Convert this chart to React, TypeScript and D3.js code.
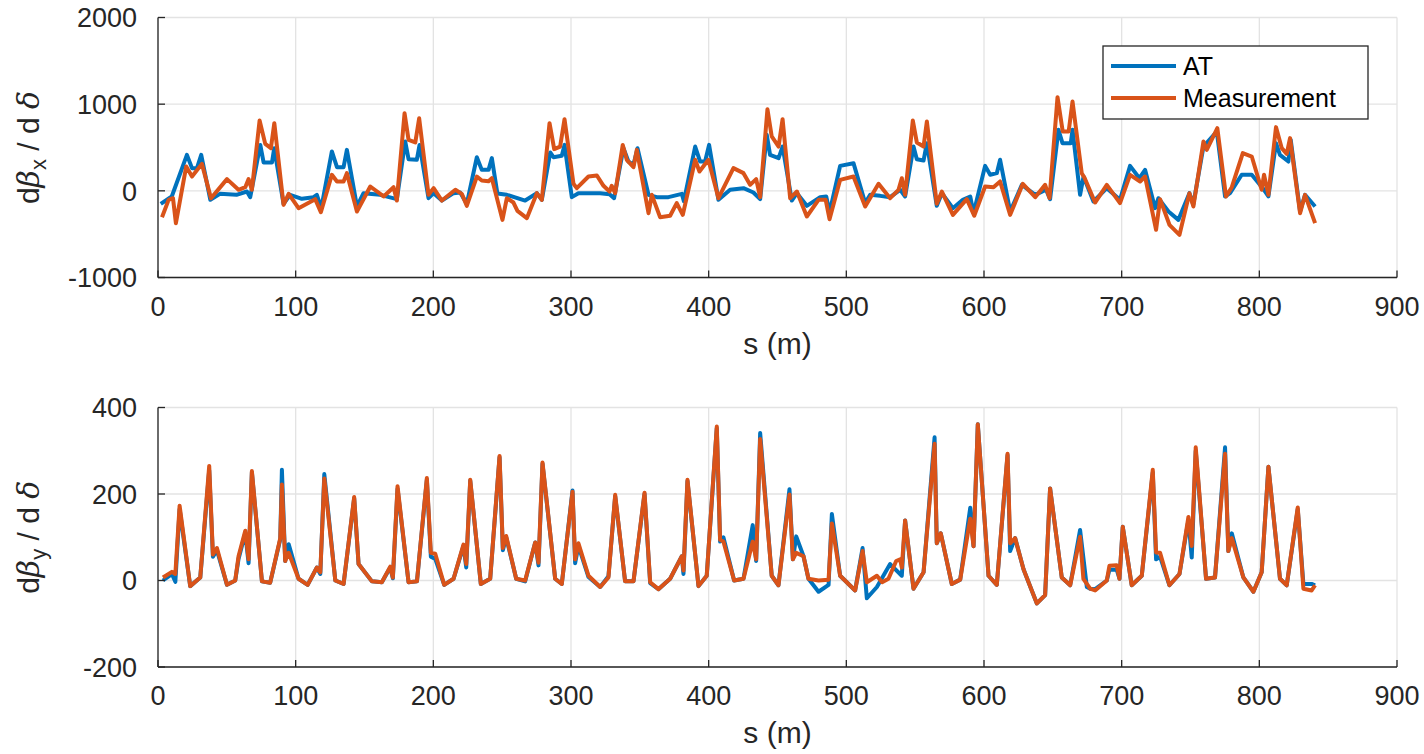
import * as d3 from 'd3'

// s (m), value pairs
const betaxAT: [number, number][] = [
  [2, -150], [10, -65], [21, 415], [24.7, 262], [28.3, 262], [31.4, 415], [38, -104], [45, -35], [57, -46], [64.6, -8],
  [67, -73], [74.3, 530], [76.7, 327], [82.8, 327], [84.4, 492], [91.2, -150], [96, -46], [104.5, -92], [113, -73], [115.4, -46],
  [118.6, -200], [126.3, 454], [130, 273], [134.8, 273], [137.2, 473], [144.5, -180], [149.3, -27], [161.4, -46], [173.5, -96], [179.6, 569],
  [182, 365], [188, 358], [190, 530], [196.5, -85], [200.2, -27], [206.2, -112], [214.7, -27], [219.5, -19], [224.3, -150], [231.6, 388],
  [235.2, 242], [240.1, 242], [242.5, 377], [246.5, -30], [253.4, -46], [266.7, -112], [275.2, -27], [278.8, -104], [284.9, 442], [287.3, 388],
  [293.3, 404], [295.3, 530], [300.6, -73], [305.4, -27], [321.2, -27], [328, -40], [331.3, -85], [338.1, 492], [341.7, 338], [345.4, 300],
  [348.3, 492], [356.3, -46], [362.3, -73], [370.8, -73], [380.5, -35], [382, -120], [390.2, 511], [393.8, 338], [397.4, 338], [400.3, 530],
  [407.1, -104], [415.6, 12], [425.3, 31], [432.5, -19], [437.4, -96], [442.2, 646], [444.6, 415], [450.8, 377], [453.7, 511], [460.4, -112],
  [464.1, -27], [471.3, -173], [481, -73], [485.4, -65], [487.8, -250], [495.5, 288], [505.2, 319], [513.7, -142], [517.3, -46], [524.6, -58],
  [531.8, -73], [539.1, 12], [542.7, -65], [548.8, 511], [551.2, 365], [556.1, 350], [558.5, 550], [565.7, -173], [569.4, -27], [577.4, -200],
  [584.6, -104], [590, -65], [592.4, -258], [600.8, 288], [604.5, 185], [609.3, 204], [611.7, 358], [619, -238], [627.5, 69], [637.2, -46],
  [645.1, 12], [648, -96], [654.1, 704], [657, 550], [663, 550], [664.3, 704], [669.8, -46], [672.3, 165], [679.5, -123], [689.2, 31],
  [698.8, -104], [706.1, 288], [712.9, 146], [717, 242], [724.3, -200], [726.7, -85], [734, -238], [741.2, -335], [749.2, -27], [752, -160],
  [759.4, 511], [769.1, 685], [775.1, -65], [778.7, -27], [787.2, 185], [794.5, 185], [802.5, 31], [806.6, -65], [812.1, 550], [815, 415],
  [821.1, 338], [822.8, 588], [829.6, -238], [833.2, -46], [840.5, -181],
]

const betaxMeas: [number, number][] = [
  [2.9, -304], [7.7, -104], [10.9, -85], [13, -373], [20.5, 281], [24.7, 165], [31.9, 311], [38.5, -85], [50.1, 135], [58.5, 12],
  [63.4, 42], [65.8, 135], [68.2, 12], [73.8, 811], [77.9, 542], [82, 492], [84.5, 781], [91.2, -162], [94.9, -35], [102.1, -200],
  [114.2, -96], [118.3, -246], [126.3, 185], [130, 108], [134.8, 108], [137.2, 204], [144.5, -238], [154.2, 50], [163.9, -65], [171.1, 42],
  [173.5, -112], [179.1, 896], [182, 588], [186.9, 558], [189.7, 838], [196.5, -46], [200.2, 31], [206.2, -112], [216, 12], [220.7, -35],
  [224.3, -173], [231.6, 165], [235.2, 119], [240.1, 110], [242.5, 146], [250.2, -335], [253.4, -85], [258.2, -135], [261.1, -231], [267.9, -315],
  [275.2, -27], [278.8, -104], [284.4, 781], [287.8, 481], [292.1, 511], [295.3, 827], [301.8, 81], [304.2, 31], [312.7, 165], [318.8, 177],
  [323.6, 58], [328, -8], [329.6, 58], [332.1, -27], [337.6, 530], [340.5, 358], [345.4, 273], [347.8, 473], [356.3, -258], [358.7, -46],
  [364.7, -304], [372, -288], [376.8, -142], [381.2, -277], [390.2, 358], [393.3, 223], [399.8, 358], [407.1, -85], [418, 262], [425.3, 204],
  [430.1, 69], [434.5, 135], [437.4, -73], [442.7, 942], [445.8, 627], [450.8, 511], [453.7, 827], [459.2, -85], [464.1, -8], [471.3, -296],
  [479.8, -104], [485, -104], [487.8, -327], [495.5, 127], [505.2, 165], [513.7, -181], [523.4, 81], [531.8, -85], [537.9, 12], [540.3, 146],
  [542.7, -46], [548.3, 811], [551.2, 558], [556.1, 511], [558.5, 800], [565.7, -150], [569.4, -8], [577.4, -277], [587.5, -96], [592.9, -288],
  [600.8, 50], [606.9, 42], [611.7, 108], [619, -277], [628.2, 81], [637.2, -73], [644.4, 69], [647.6, -85], [653.4, 1081], [657.2, 685],
  [661.5, 685], [664.3, 1031], [671, 204], [673, 150], [680.7, -135], [689.2, 69], [698.8, -142], [706.1, 185], [713.4, 108], [717, 165],
  [725, -450], [727.9, -96], [734.7, -392], [742, -508], [749.2, -27], [752.1, -181], [759.4, 569], [761.8, 473], [769.5, 723], [775.8, -65],
  [780, 42], [788, 435], [794.5, 396], [801.7, 12], [803.4, 185], [806.6, -46], [812.1, 735], [816.3, 492], [819.9, 427], [822.3, 608],
  [829.6, -258], [833.2, -46], [840.5, -373],
]

const betayAT: [number, number][] = [
  [3.6, 0], [10.1, 15], [12.6, -3], [15.7, 165], [23.4, -13], [30.7, 7], [37.2, 255], [39.9, 55], [42.8, 70], [50.1, -10],
  [56.1, 0], [58.5, 50], [63.4, 110], [65.8, 40], [68.2, 250], [75.5, -2], [81.5, -5], [88.8, 95], [90, 256], [92.4, 45],
  [94.9, 84], [102.1, 4], [108.7, -10], [115.4, 30], [117.9, 15], [120.8, 246], [128.8, 0], [134.8, -8], [142.5, 190], [145.7, 38],
  [155.4, -2], [162.6, -4], [168.7, 30], [170.6, 5], [174, 212], [182, -4], [188.1, -2], [195.3, 233], [198.2, 55], [201.4, 50],
  [207.9, -10], [214.7, 4], [221.9, 80], [223.9, 30], [226.8, 231], [234.5, -8], [241.3, 4], [248.1, 285], [250.5, 70], [252.9, 100],
  [260.2, 4], [266.7, -2], [274, 88], [276.4, 35], [279.3, 270], [288.5, 4], [293.3, -8], [301.1, 208], [303, 40], [305.4, 80],
  [312.7, 8], [321.2, -15], [327.2, 10], [332.1, 195], [339.3, -2], [345.4, -2], [353.4, 200], [357.5, -6], [363.5, -20], [372, 4],
  [380.5, 56], [381.7, 15], [384.6, 230], [392.6, -13], [398.6, 11], [405.9, 352], [408.3, 90], [410.7, 100], [418.5, 0], [425.3, 4],
  [432, 128], [434.5, 45], [437.4, 341], [445.8, 11], [450.7, -11], [458.7, 211], [461.2, 49], [463.6, 102], [468.9, 56], [472.5, 4],
  [479.8, -26], [487.1, -10], [489.5, 154], [495.5, 11], [506.4, -23], [511.8, 75], [514.9, -41], [522.2, -15], [531.8, 38], [540.3, 11],
  [542.7, 139], [548.8, -19], [556.1, 19], [564.1, 331], [565.7, 86], [568.6, 109], [576.6, -8], [582.7, 2], [590, 168], [592.4, 79],
  [595.5, 361], [603.3, 11], [609.3, -10], [617.1, 290], [619, 68], [622.6, 98], [628.7, 26], [634.7, -23], [638.4, -53], [644.4, -34],
  [648, 213], [656.5, 7], [662.6, -11], [669.8, 117], [674.7, -15], [677.1, -19], [680.7, -20], [689.2, 0], [691.1, 25], [696.4, 25],
  [698.4, 4], [700.8, 124], [707.3, -11], [714.6, 11], [722.6, 250], [725, 49], [727.9, 55], [734.7, -11], [742, 15], [748.5, 140],
  [750.9, 53], [753.8, 300], [761.3, 4], [767.8, 7], [775.1, 308], [777.5, 68], [780, 109], [788.4, 7], [795.7, -26], [801.7, 19],
  [806.6, 263], [815, 4], [819.9, -11], [827.9, 165], [832, -8], [838, -8], [840.5, -11],
]

const betayMeas: [number, number][] = [
  [3.6, 7], [10.1, 20], [12.6, 15], [15.7, 173], [23.4, -13], [30.7, 7], [37.2, 265], [39.9, 60], [42.8, 75], [50.1, -10],
  [56.1, 0], [58.5, 56], [63.4, 115], [65.8, 49], [68.2, 253], [75.5, -2], [81.5, -5], [88.8, 98], [90, 222], [92.4, 45],
  [94.9, 64], [102.1, 4], [108.7, -10], [115.4, 30], [117.9, 19], [120.8, 236], [128.8, 0], [134.8, -8], [142.5, 193], [145.7, 38],
  [155.4, -2], [162.6, -4], [168.7, 32], [170.6, 7], [174, 218], [182, -4], [188.1, -2], [195.3, 237], [198.2, 64], [201.4, 62],
  [207.9, -10], [214.7, 4], [221.9, 83], [223.9, 38], [226.8, 233], [234.5, -8], [241.3, 4], [248.1, 288], [250.5, 75], [252.9, 103],
  [260.2, 4], [266.7, 0], [274, 88], [276.4, 41], [279.3, 273], [288.5, 4], [293.3, -8], [301.1, 205], [303, 49], [305.4, 86],
  [312.7, 11], [321.2, -15], [327.2, 7], [332.1, 198], [339.3, -2], [345.4, -2], [353.4, 203], [357.5, -4], [363.5, -20], [372, 4],
  [380.5, 56], [381.7, 23], [384.6, 233], [392.6, -13], [398.6, 11], [405.9, 356], [408.3, 94], [410.7, 90], [418.5, 0], [425.3, 4],
  [432, 90], [434.5, 49], [437.4, 327], [445.8, 11], [450.7, -11], [458.7, 199], [461.2, 49], [463.6, 64], [468.9, 56], [472.5, 4],
  [479.8, 0], [487.1, 2], [489.5, 132], [495.5, 11], [506.4, -23], [511.8, 68], [514.9, -4], [522.2, 11], [526, -4], [530.6, 4],
  [536.2, 45], [539.1, 49], [540.3, 30], [542.7, 139], [548.8, -19], [556.1, 19], [564.1, 316], [565.7, 86], [568.6, 109], [576.6, -8],
  [582.7, 2], [590, 143], [592.4, 79], [595.5, 361], [603.3, 11], [609.3, -10], [617.1, 293], [619, 86], [622.6, 98], [628.7, 26],
  [634.7, -23], [638.4, -53], [644.4, -34], [648, 213], [656.5, 7], [662.6, -11], [669.8, 101], [672.2, 4], [677.1, -19], [680.7, -23],
  [689.2, 0], [691.1, 34], [696.4, 35], [698.4, 4], [700.8, 124], [707.3, -11], [714.6, 11], [722.6, 256], [725, 65], [727.9, 64],
  [734.7, -11], [742, 15], [748.5, 147], [750.9, 80], [753.8, 308], [761.3, 4], [767.8, 7], [775.1, 293], [777.5, 68], [780, 98],
  [788.4, 7], [795.7, -26], [801.7, 19], [806.6, 263], [815, 4], [819.9, -11], [827.9, 169], [832, -19], [838, -23], [840.5, -11],
]

const sTicks = [0, 100, 200, 300, 400, 500, 600, 700, 800, 900]
const xTicksTop = [-1000, 0, 1000, 2000]
const yTicksBottom = [-200, 0, 200, 400]
const seriesNames = ['AT', 'Measurement']

const COLORS = ['#0072BD', '#D95319']
const AXIS = '#262626'
const GRID = '#e3e3e3'
const FONT = '"Liberation Sans", Arial, Helvetica, sans-serif'

const x = d3.scaleLinear().domain([0, 900]).range([158, 1397])

type PanelProps = {
  top: number
  bottom: number
  domain: [number, number]
  ticks: number[]
  sub: string
  at: [number, number][]
  meas: [number, number][]
  legend?: boolean
}

const Panel = ({ top, bottom, domain, ticks, sub, at, meas, legend }: PanelProps) => {
  const y = d3.scaleLinear().domain(domain).range([bottom, top])
  const line = d3.line<[number, number]>()
    .x(d => x(d[0]))
    .y(d => y(d[1]))
  const [x0, x1] = x.range()
  const midY = (top + bottom) / 2

  return (
    <g>
      {/* grid */}
      {sTicks.map(t => (
        <line key={'gx' + t} x1={x(t)} x2={x(t)} y1={top} y2={bottom} stroke={GRID} strokeWidth={1.3} />
      ))}
      {ticks.map(t => (
        <line key={'gy' + t} x1={x0} x2={x1} y1={y(t)} y2={y(t)} stroke={GRID} strokeWidth={1.3} />
      ))}

      {/* series */}
      <path d={line(at) ?? ''} fill="none" stroke={COLORS[0]} strokeWidth={4} strokeLinejoin="round" />
      <path d={line(meas) ?? ''} fill="none" stroke={COLORS[1]} strokeWidth={4} strokeLinejoin="round" />

      {/* axes */}
      <line x1={x0} x2={x0} y1={top} y2={bottom} stroke={AXIS} strokeWidth={1.3} />
      <line x1={x0} x2={x1} y1={bottom} y2={bottom} stroke={AXIS} strokeWidth={1.3} />
      {sTicks.map(t => (
        <g key={'tx' + t}>
          <line x1={x(t)} x2={x(t)} y1={bottom} y2={bottom - 7} stroke={AXIS} strokeWidth={1.3} />
          <text x={x(t)} y={bottom + 38} textAnchor="middle" fontSize={27} fill={AXIS}>{t}</text>
        </g>
      ))}
      {ticks.map(t => (
        <g key={'ty' + t}>
          <line x1={x0} x2={x0 + 7} y1={y(t)} y2={y(t)} stroke={AXIS} strokeWidth={1.3} />
          <text x={137} y={y(t)} dy="0.36em" textAnchor="end" fontSize={27} fill={AXIS}>{t}</text>
        </g>
      ))}

      {/* labels */}
      <text x={(x0 + x1) / 2} y={bottom + 76} textAnchor="middle" fontSize={30} fill={AXIS}>s (m)</text>
      <text transform={`translate(39,${midY}) rotate(-90)`} textAnchor="middle" fontSize={30} fill={AXIS}>
        d<tspan fontStyle="italic" fontFamily="'DejaVu Serif', serif">β</tspan>
        <tspan fontSize={22} dy={7}>{sub}</tspan>
        <tspan dy={-7}> / d </tspan>
        <tspan fontStyle="italic" fontFamily="'DejaVu Serif', serif">δ</tspan>
      </text>

      {legend && (
        <g>
          <rect x={1103} y={46} width={265} height={73} fill="#fff" stroke={AXIS} strokeWidth={1.3} />
          {seriesNames.map((name, i) => (
            <g key={name}>
              <line x1={1111} x2={1176} y1={66 + i * 32} y2={66 + i * 32} stroke={COLORS[i]} strokeWidth={4} />
              <text x={1183} y={66 + i * 32} dy="0.36em" fontSize={25} fill="#000">{name}</text>
            </g>
          ))}
        </g>
      )}
    </g>
  )
}

export default function App() {
  return (
    <svg
      width={1424}
      height={754}
      style={{ position: 'absolute', left: 0, top: 0, background: '#fff', fontFamily: FONT }}
    >
      <Panel top={17.5} bottom={277.5} domain={[-1000, 2000]} ticks={xTicksTop} sub="x" at={betaxAT} meas={betaxMeas} legend />
      <Panel top={407.5} bottom={667} domain={[-200, 400]} ticks={yTicksBottom} sub="y" at={betayAT} meas={betayMeas} />
    </svg>
  )
}
